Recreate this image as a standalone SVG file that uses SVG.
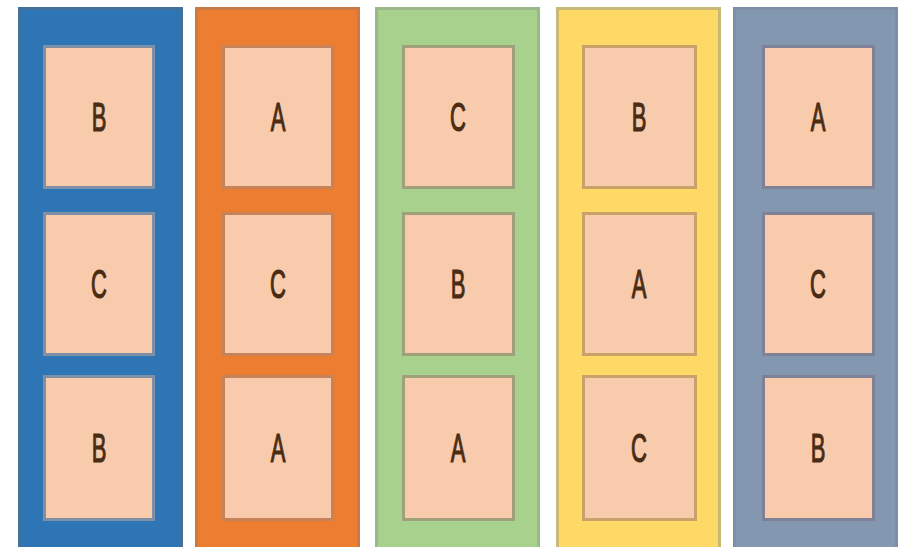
<svg xmlns="http://www.w3.org/2000/svg" width="904" height="547" viewBox="0 0 904 547">
<style>
.col{stroke-width:3}
.box{fill:#f8cbad;stroke-width:3}
.lbl{font-family:"Liberation Sans",Arial,sans-serif;font-size:40px;fill:#4a2c14;stroke:#4a2c14;stroke-width:1.2;text-anchor:middle;dominant-baseline:central}
</style>
<rect width="904" height="547" fill="#ffffff"/>
<g id="col1">
<rect class="col" x="19.5" y="8.5" width="162" height="545" fill="#2e75b6" stroke="#41719c"/>
<g id="col1-b1"><rect class="box" x="44.5" y="46.5" width="109" height="141" stroke="#7f8fa6"/><text class="lbl" transform="translate(99,117) scale(0.55,1)">B</text></g>
<g id="col1-b2"><rect class="box" x="44.5" y="213.5" width="109" height="141" stroke="#7f8fa6"/><text class="lbl" transform="translate(99,284) scale(0.55,1)">C</text></g>
<g id="col1-b3"><rect class="box" x="44.5" y="376.5" width="109" height="143" stroke="#7f8fa6"/><text class="lbl" transform="translate(99,448) scale(0.55,1)">B</text></g>
</g>
<g id="col2">
<rect class="col" x="196.5" y="8.5" width="162" height="545" fill="#ed7d31" stroke="#c87a4a"/>
<g id="col2-b1"><rect class="box" x="223.5" y="46.5" width="109" height="141" stroke="#c8825a"/><text class="lbl" transform="translate(278,117) scale(0.55,1)">A</text></g>
<g id="col2-b2"><rect class="box" x="223.5" y="213.5" width="109" height="141" stroke="#c8825a"/><text class="lbl" transform="translate(278,284) scale(0.55,1)">C</text></g>
<g id="col2-b3"><rect class="box" x="223.5" y="376.5" width="109" height="143" stroke="#c8825a"/><text class="lbl" transform="translate(278,448) scale(0.55,1)">A</text></g>
</g>
<g id="col3">
<rect class="col" x="376.5" y="8.5" width="162" height="545" fill="#a9d18e" stroke="#9cb88a"/>
<g id="col3-b1"><rect class="box" x="403.5" y="46.5" width="110" height="141" stroke="#a0a07a"/><text class="lbl" transform="translate(458,117) scale(0.55,1)">C</text></g>
<g id="col3-b2"><rect class="box" x="403.5" y="213.5" width="110" height="141" stroke="#a0a07a"/><text class="lbl" transform="translate(458,284) scale(0.55,1)">B</text></g>
<g id="col3-b3"><rect class="box" x="403.5" y="376.5" width="110" height="143" stroke="#a0a07a"/><text class="lbl" transform="translate(458,448) scale(0.55,1)">A</text></g>
</g>
<g id="col4">
<rect class="col" x="557.5" y="8.5" width="162" height="545" fill="#ffd966" stroke="#c9b878"/>
<g id="col4-b1"><rect class="box" x="583.5" y="46.5" width="112" height="141" stroke="#c9a26a"/><text class="lbl" transform="translate(639,117) scale(0.55,1)">B</text></g>
<g id="col4-b2"><rect class="box" x="583.5" y="213.5" width="112" height="141" stroke="#c9a26a"/><text class="lbl" transform="translate(639,284) scale(0.55,1)">A</text></g>
<g id="col4-b3"><rect class="box" x="583.5" y="376.5" width="112" height="143" stroke="#c9a26a"/><text class="lbl" transform="translate(639,448) scale(0.55,1)">C</text></g>
</g>
<g id="col5">
<rect class="col" x="734.5" y="8.5" width="162" height="545" fill="#8497b0" stroke="#7f8ea6"/>
<g id="col5-b1"><rect class="box" x="763.5" y="46.5" width="110" height="141" stroke="#7f8296"/><text class="lbl" transform="translate(818,117) scale(0.55,1)">A</text></g>
<g id="col5-b2"><rect class="box" x="763.5" y="213.5" width="110" height="141" stroke="#7f8296"/><text class="lbl" transform="translate(818,284) scale(0.55,1)">C</text></g>
<g id="col5-b3"><rect class="box" x="763.5" y="376.5" width="110" height="143" stroke="#7f8296"/><text class="lbl" transform="translate(818,448) scale(0.55,1)">B</text></g>
</g>
<g id="connectors"></g>
</svg>
